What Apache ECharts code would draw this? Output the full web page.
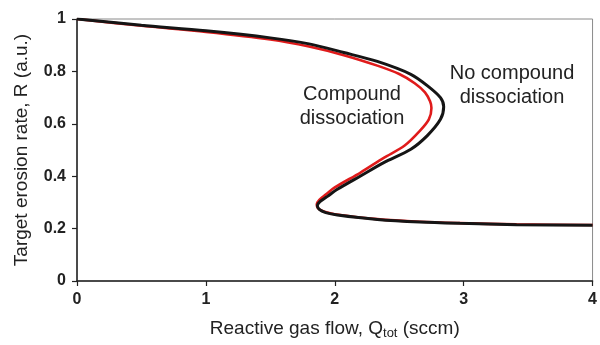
<!DOCTYPE html>
<html>
<head>
<meta charset="utf-8">
<script src="https://cdn.jsdelivr.net/npm/echarts@6/dist/echarts.min.js"></script>
<style>html,body{margin:0;padding:0;background:#fff;}#c{width:600px;height:345px;}</style>
</head>
<body>
<div id="c"></div>
<script>
// Data: [reactive gas flow Q_tot (sccm), target erosion rate R (a.u.)]
const noDissociation = [
  [0,1.0],[0.5,0.976],[1.0,0.955],[1.5,0.928],[1.8,0.905],[2.07,0.872],[2.33,0.838],
  [2.59,0.789],[2.72,0.745],[2.82,0.70],[2.845,0.665],[2.82,0.617],[2.72,0.556],
  [2.59,0.503],[2.38,0.452],[2.20,0.401],[2.02,0.350],[1.94,0.322],[1.885,0.303],
  [1.865,0.288],[1.88,0.273],[1.93,0.261],[2.02,0.252],[2.33,0.235],[2.66,0.225],
  [2.97,0.22],[3.41,0.215],[4.0,0.213]
];
const withDissociation = [
  [0,1.0],[0.5,0.974],[1.0,0.951],[1.5,0.922],[1.8,0.895],[2.07,0.862],[2.33,0.822],
  [2.5,0.79],[2.62,0.755],[2.70,0.72],[2.74,0.685],[2.75,0.66],[2.73,0.617],[2.66,0.573],
  [2.54,0.516],[2.38,0.47],[2.20,0.414],[2.0,0.357],[1.93,0.33],[1.88,0.31],[1.86,0.293],
  [1.87,0.277],[1.92,0.264],[2.0,0.255],[2.33,0.236],[2.66,0.226],[2.97,0.221],[3.41,0.216],[4.0,0.214]
];
const xTicks = [0,1,2,3,4];
const yTicks = [0,0.2,0.4,0.6,0.8,1];
const labelLeft = ['Compound','dissociation'];
const labelRight = ['No compound','dissociation'];

const chart = echarts.init(document.getElementById('c'));
const F = '"Liberation Sans", Arial, sans-serif';
chart.setOption({
  animation: false,
  backgroundColor: '#fff',
  grid: {left: 77, right: 3, top: 19, bottom: 63, show: true, borderColor: '#8a8a8a', borderWidth: 1, backgroundColor: 'transparent'},
  xAxis: {
    type: 'value', min: xTicks[0], max: xTicks[xTicks.length-1], interval: 1,
    name: 'Reactive gas flow, Q{sub|tot} (sccm)',
    nameLocation: 'middle', nameGap: 36,
    nameTextStyle: {fontFamily: F, fontSize: 19, color: '#222',
      rich: {sub: {fontFamily: F, fontSize: 13, color: '#222', verticalAlign: 'bottom', padding: [10,0,0,0]}}},
    axisLine: {lineStyle: {color: '#222', width: 1.5}},
    axisTick: {show: true, length: 5, lineStyle: {color: '#222', width: 1.2}},
    axisLabel: {fontFamily: F, fontSize: 16, fontWeight: 'bold', color: '#222', margin: 11},
    splitLine: {show: false}
  },
  yAxis: {
    type: 'value', min: yTicks[0], max: yTicks[yTicks.length-1], interval: 0.2,
    name: 'Target erosion rate, R (a.u.)',
    nameLocation: 'middle', nameGap: 46,
    nameTextStyle: {fontFamily: F, fontSize: 19, color: '#222'},
    axisLine: {show: true, lineStyle: {color: '#222', width: 1.5}},
    axisTick: {show: true, length: 5, lineStyle: {color: '#222', width: 1.2}},
    axisLabel: {fontFamily: F, fontSize: 16, fontWeight: 'bold', color: '#222', margin: 11},
    splitLine: {show: false}
  },
  series: [
    {name: 'Compound dissociation', type: 'line', data: withDissociation, smooth: 0.3, showSymbol: false,
     lineStyle: {color: '#e01b1b', width: 2.6}, z: 2},
    {name: 'No compound dissociation', type: 'line', data: noDissociation, smooth: 0.3, showSymbol: false,
     lineStyle: {color: '#151515', width: 3}, z: 3}
  ],
  graphic: [
    {type: 'text', x: 352, y: 106, style: {text: labelLeft.join('\n'), fontFamily: F, fontSize: 20, fill: '#222', align: 'center', verticalAlign: 'middle', lineHeight: 24}},
    {type: 'text', x: 512, y: 85, style: {text: labelRight.join('\n'), fontFamily: F, fontSize: 20, fill: '#222', align: 'center', verticalAlign: 'middle', lineHeight: 24}}
  ]
});
</script>
</body>
</html>
